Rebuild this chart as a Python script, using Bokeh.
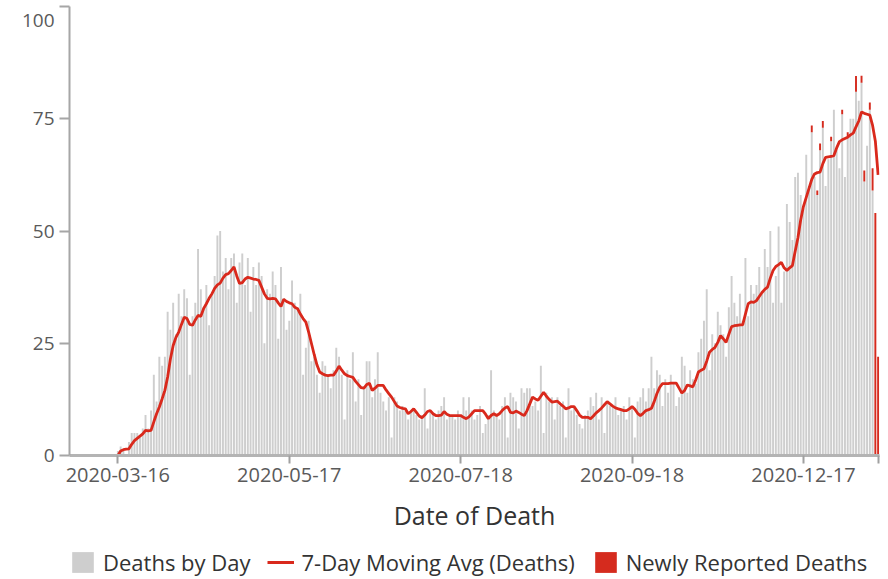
from bokeh.plotting import figure
from bokeh.layouts import column
from bokeh.models import Legend, LegendItem, FixedTicker, LinearAxis, Range1d
from bokeh.embed import file_html
from bokeh.resources import INLINE

# ---------------- data ----------------
deaths = [
    0, 0, 0, 0, 0, 0, 0, 0, 0, 0,
    0, 0, 0, 0, 0, 0, 0, 1, 2, 1,
    0, 3, 5, 5, 5, 4, 6, 9, 6, 10,
    18, 12, 22, 20, 22, 32, 28, 34, 27, 36,
    31, 37, 35, 18, 31, 34, 46, 37, 33, 38,
    29, 36, 40, 49, 50, 41, 44, 37, 44, 45,
    34, 43, 45, 38, 44, 32, 42, 38, 43, 40,
    25, 37, 36, 41, 38, 26, 42, 35, 28, 30,
    39, 34, 33, 36, 18, 24, 30, 21, 22, 18,
    14, 21, 20, 18, 15, 19, 24, 22, 18, 8,
    19, 17, 23, 12, 17, 9, 15, 21, 21, 13,
    17, 23, 14, 12, 10, 13, 4, 13, 12, 10,
    11, 10, 8, 10, 10, 9, 8, 9, 15, 6,
    10, 9, 8, 10, 11, 13, 8, 9, 9, 8,
    10, 9, 13, 10, 13, 10, 8, 9, 11, 5,
    7, 9, 19, 10, 9, 8, 11, 13, 4, 14,
    13, 12, 6, 15, 14, 15, 15, 11, 12, 10,
    20, 5, 14, 12, 13, 8, 13, 11, 12, 4,
    15, 10, 11, 9, 7, 6, 9, 10, 13, 11,
    14, 8, 13, 5, 12, 11, 11, 13, 9, 10,
    11, 8, 13, 11, 4, 12, 13, 15, 12, 15,
    22, 15, 19, 18, 11, 17, 14, 18, 16, 11,
    13, 22, 20, 14, 19, 17, 16, 23, 26, 30,
    37, 19, 27, 25, 32, 29, 27, 22, 33, 40,
    34, 31, 36, 30, 44, 31, 38, 36, 38, 42,
    36, 46, 42, 50, 34, 40, 51, 34, 41, 56,
    52, 48, 62, 63, 58, 55, 67, 60, 72, 62,
    58, 68, 73, 60, 66, 70, 77, 68, 64, 76,
    62, 71, 75, 75, 81, 79, 83, 61, 69, 77,
    59, 0, 0,
]

moving_avg = [
    0, 0, 0, 0, 0, 0, 0, 0, 0, 0,
    0, 0, 0, 0, 0, 0, 0, 0, 1.0, 1.3,
    1.4, 1.5, 2.5, 3.3, 3.8, 4.3, 4.8, 5.6, 5.5, 5.6,
    7.5, 9.3, 10.8, 12.6, 14.5, 17.5, 21.5, 24.5, 26.3, 27.5,
    29.2, 30.8, 30.5, 29.2, 29.0, 30.2, 31.2, 31.0, 32.7, 33.8,
    35.0, 36.0, 37.2, 38.0, 38.4, 39.5, 40.3, 40.5, 41.2, 42.0,
    40.0, 38.3, 38.5, 39.3, 39.7, 39.5, 39.3, 39.2, 39.0, 37.5,
    36.0, 35.0, 34.9, 35.0, 34.9, 34.0, 33.2, 34.8, 34.3, 34.0,
    33.8, 33.0, 32.7, 31.5, 30.5, 29.7, 27.5, 25.0, 22.5, 20.2,
    18.6, 18.2, 17.9, 17.8, 17.9, 17.9, 18.8, 19.9, 19.0, 18.2,
    17.8, 17.6, 17.4, 16.5, 15.8, 15.1, 15.0, 15.8, 16.1, 14.5,
    15.0, 15.6, 15.6, 15.6, 14.6, 13.8, 13.0, 12.0, 11.0, 10.7,
    10.5, 10.4, 9.3, 9.8, 10.4, 9.6, 8.8, 8.4, 9.0, 9.8,
    10.0, 9.3, 8.9, 8.9, 9.0, 9.8, 9.2, 8.9, 8.9, 8.9,
    8.9, 8.9, 8.5, 8.2, 8.6, 9.3, 10.0, 10.0, 10.0, 10.0,
    9.2, 8.2, 8.9, 9.3, 8.9, 9.3, 10.0, 10.6, 10.9, 9.6,
    9.5, 9.9, 9.6, 9.2, 8.9, 10.0, 11.5, 13.0, 12.6, 12.3,
    13.2, 14.1, 13.2, 12.5, 11.9, 12.0, 12.1, 11.5, 11.0, 10.4,
    10.6, 10.9, 10.9, 10.0, 9.0, 8.5, 8.5, 8.5, 8.2, 8.8,
    9.5, 10.0, 10.6, 11.3, 12.0, 11.5, 11.0, 10.6, 10.4, 10.2,
    10.0, 10.0, 10.4, 10.9, 10.3, 9.4, 8.9, 9.4, 10.0, 10.2,
    10.5, 12.0, 13.8, 15.2, 16.0, 16.0, 16.0, 16.1, 16.1, 16.1,
    15.0, 13.9, 14.5, 15.7, 15.5, 15.3, 16.8, 18.6, 19.0, 19.3,
    21.0, 23.0, 23.6, 24.1, 25.2, 26.7, 26.0, 25.2, 27.0, 28.7,
    28.9, 29.0, 29.1, 29.1, 31.5, 33.8, 34.2, 34.1, 34.5, 35.4,
    36.3, 37.0, 37.5, 39.5, 41.2, 42.1, 42.5, 43.0, 41.8, 41.2,
    41.8, 42.3, 45.5, 48.5, 52.5, 55.5, 57.5, 59.5, 61.5, 62.7,
    63.0, 63.1, 65.0, 66.4, 66.5, 66.6, 66.8, 68.5, 69.9, 70.3,
    70.6, 70.9, 71.4, 71.8, 73.2, 74.5, 76.5, 76.2, 76.0, 75.8,
    73.5, 70.0, 62.5,
]

new_reported = [0] * 268 + [
    1.5, 0, 1, 1.5, 1.5, 0, 0, 1, 0, 0,
    0, 1, 0, 1, 0, 0, 3.5, 0, 1.6, 2.5,
    0, 1.6, 5, 54, 22,
]

tick_index = [17, 79, 141, 203, 265, 292]
tick_labels = ["2020-03-16", "2020-05-17", "2020-07-18", "2020-09-18", "2020-12-17", ""]
y_ticks = [0, 25, 50, 75, 100]
y_tick_labels = ["0", "25", "50", "75", "100"]
legend_labels = ["Deaths by Day", "7-Day Moving Avg (Deaths)", "Newly Reported Deaths"]

# ---------------- plot ----------------
idx = list(range(len(deaths)))
top_new = [d + n for d, n in zip(deaths, new_reported)]

FONT = "Open Sans"
GRAY = "#cecece"
RED_LINE = "#d9291c"
RED_BAR = "#d52b1e"
TICK_GRAY = "#5a5a5a"

p = figure(width=888, height=545,
           x_range=(-0.5, len(deaths) - 0.5), y_range=(0, 100),
           output_backend="svg", toolbar_location=None,
           min_border_left=69, min_border_right=9,
           min_border_top=6, min_border_bottom=90)
p.outline_line_color = None
p.xgrid.visible = False
p.ygrid.visible = False
p.background_fill_color = "white"
p.border_fill_color = "white"

r_gray = p.vbar(x=idx, top=deaths, width=0.7, fill_color=GRAY, line_color=None)
r_new = p.vbar(x=idx, bottom=deaths, top=top_new, width=0.7,
               fill_color=RED_BAR, line_color=None)
r_line = p.line(idx, moving_avg, line_color=RED_LINE, line_width=2.8)

# y axis: line + tick marks only
ya = p.yaxis[0]
ya.ticker = FixedTicker(ticks=y_ticks)
ya.major_label_overrides = {v: "" for v in y_ticks}
ya.axis_line_color = "#a6a6a6"
ya.axis_line_width = 2
ya.major_tick_line_color = "#a6a6a6"
ya.major_tick_line_width = 2
ya.major_tick_out = 10
ya.major_tick_in = 0
ya.minor_tick_out = 0
ya.minor_tick_in = 0
ya.major_label_standoff = 0

# y labels on their own axis, so the top label can sit just under its tick
label_pos = list(y_ticks)
label_pos[-1] = 96.9
p.extra_y_ranges = {"labels": Range1d(0, 100)}
lab_axis = LinearAxis(y_range_name="labels",
                      ticker=FixedTicker(ticks=label_pos),
                      major_label_overrides={v: t for v, t in zip(label_pos, y_tick_labels)},
                      axis_line_color=None, major_tick_line_color=None,
                      minor_tick_line_color=None,
                      major_tick_out=0, major_tick_in=0,
                      minor_tick_out=0, minor_tick_in=0,
                      major_label_standoff=5,
                      major_label_text_font=FONT,
                      major_label_text_font_size="19px",
                      major_label_text_color=TICK_GRAY)
p.add_layout(lab_axis, "left")

# x axis
xa = p.xaxis[0]
xa.ticker = FixedTicker(ticks=tick_index)
xa.major_label_overrides = {i: t for i, t in zip(tick_index, tick_labels)}
xa.axis_line_color = "#b4b4b4"
xa.axis_line_width = 3
xa.major_tick_line_color = "#a0a0a0"
xa.major_tick_line_width = 2
xa.major_tick_out = 8
xa.major_tick_in = 0
xa.minor_tick_out = 0
xa.minor_tick_in = 0
xa.major_label_text_font = FONT
xa.major_label_text_font_size = "20px"
xa.major_label_text_color = TICK_GRAY
xa.major_label_standoff = 4
xa.axis_label = "Date of Death"
xa.axis_label_text_font = FONT
xa.axis_label_text_font_style = "normal"
xa.axis_label_text_font_size = "25px"
xa.axis_label_text_color = "#333333"
xa.axis_label_standoff = 13

# ---------------- legend strip ----------------
lg = figure(width=888, height=34, x_range=(0, 1), y_range=(0, 1),
            output_backend="svg", toolbar_location=None,
            x_axis_type=None, y_axis_type=None,
            min_border_left=69, min_border_right=9,
            min_border_top=0, min_border_bottom=0)
lg.outline_line_color = None
lg.xgrid.visible = False
lg.ygrid.visible = False
# swatch renderers with zero-size marks (only their legend swatches show)
g1 = lg.vbar(x=[0.5], bottom=[0], top=[0], width=0.0, fill_color=GRAY, line_color=None)
g2 = lg.line(x=[0.5, 0.5], y=[-2, -1], line_color=RED_LINE, line_width=3)
g3 = lg.vbar(x=[0.5], bottom=[0], top=[0], width=0.0, fill_color=RED_BAR, line_color=None)

legend = Legend(items=[
    LegendItem(label=legend_labels[0], renderers=[g1]),
    LegendItem(label=legend_labels[1], renderers=[g2]),
    LegendItem(label=legend_labels[2], renderers=[g3]),
], orientation="horizontal", location=(0, 2))
legend.glyph_width = 27
legend.glyph_height = 26
legend.label_standoff = 7
legend.spacing = 17
legend.padding = 0
legend.margin = 0
legend.border_line_color = None
legend.background_fill_alpha = 0
legend.label_text_font = FONT
legend.label_text_font_size = "22px"
legend.label_text_color = "#333333"
lg.add_layout(legend)

layout = column(p, lg, spacing=0)
open("out.html", "w").write(file_html(layout, INLINE))
